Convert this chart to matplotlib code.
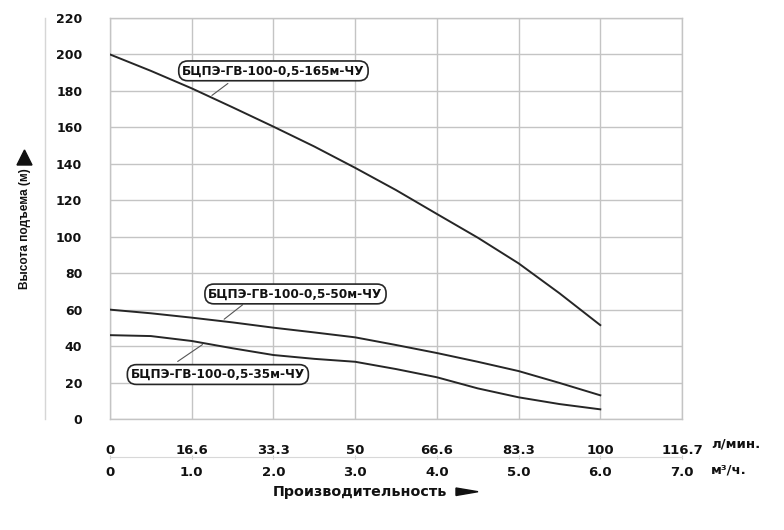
"""Pump head curves for three BCPE-GV-100-0,5 units (head vs. flow)."""
import matplotlib
matplotlib.use("Agg")
import matplotlib.pyplot as plt
from matplotlib.patches import Polygon

# flow, m3/h (read at half steps off the reference)
flow = [0, 0.5, 1.0, 1.5, 2.0, 2.5, 3.0, 3.5, 4.0, 4.5, 5.0, 5.5, 6.0]
head_165 = [200, 191, 181.4, 171, 160.4, 149.5, 137.8, 125.6, 112.5, 99.5, 85.4, 69, 51.5]
head_50 = [60, 58, 55.6, 53, 50.1, 47.5, 44.8, 40.6, 36.2, 31.4, 26.3, 19.8, 13]
head_35 = [46, 45.5, 42.8, 38.8, 35.1, 33.0, 31.4, 27.4, 22.9, 16.8, 11.9, 8.2, 5.3]

x_ticks = [0, 1, 2, 3, 4, 5, 6, 7]
lpm_labels = ["0", "16.6", "33.3", "50", "66.6", "83.3", "100", "116.7"]
m3h_labels = ["0", "1.0", "2.0", "3.0", "4.0", "5.0", "6.0", "7.0"]
y_ticks = list(range(0, 221, 20))

# name, label centre, leader start, leader end (data coords)
labels = [
    ("БЦПЭ-ГВ-100-0,5-165м-ЧУ", (2.0, 191), (1.47, 185), (1.22, 176.6)),
    ("БЦПЭ-ГВ-100-0,5-50м-ЧУ", (2.27, 68.6), (1.65, 63.6), (1.37, 53.8)),
    ("БЦПЭ-ГВ-100-0,5-35м-ЧУ", (1.32, 24.4), (0.80, 30.7), (1.16, 41.7)),
]

GRID = "#c4c4c4"
INK = "#262626"
TXT = "#111111"
W, H = 784, 530
plt.rcParams["font.family"] = ["DejaVu Sans"]
plt.rcParams["font.weight"] = "bold"

fig = plt.figure(figsize=(W / 100, H / 100), dpi=100)
ax = fig.add_axes([110 / W, 1 - 419 / H, 572 / W, 401 / H])


def px(x, y):
    """figure pixel (from top-left) -> figure fraction"""
    return x / W, 1 - y / H


for series in (head_165, head_50, head_35):
    ax.plot(flow, series, color=INK, lw=1.4, zorder=3)

ax.set_xlim(0, 7)
ax.set_ylim(0, 220)
ax.set_xticks(x_ticks, lpm_labels)
ax.set_yticks(y_ticks)
ax.grid(True, color=GRID, lw=1.0)
ax.set_axisbelow(True)
for sp in ax.spines.values():
    sp.set_color(GRID)
    sp.set_linewidth(1.0)
ax.tick_params(axis="y", length=0, pad=20, labelsize=9, colors=TXT)
ax.tick_params(axis="x", length=0, pad=18, labelsize=9.5, colors=TXT)

# second row of flow labels: m3/h
sec = ax.secondary_xaxis(-0.095)
sec.set_xticks(x_ticks, m3h_labels)
sec.spines["bottom"].set_color("#d8d8d8")
sec.tick_params(axis="x", length=3, direction="inout", color="#d0d0d0",
                pad=5, labelsize=9.5, colors=TXT)

ax.text(1.051, -0.0623, "л/мин.", transform=ax.transAxes, fontsize=9.5,
        ha="left", va="center", color=TXT)
ax.text(1.051, -0.127, "м³/ч.", transform=ax.transAxes, fontsize=9.5,
        ha="left", va="center", color=TXT)

fig.text(*px(273, 492), "Производительность", fontsize=10.3,
         ha="left", va="center", color=TXT)
fig.add_artist(Polygon([px(456, 488), px(456, 495.5), px(478, 491.7)],
                       closed=True, color=TXT, transform=fig.transFigure))
fig.text(*px(25, 229), "Высота подъема (м)", fontsize=8.6,
         family=["Liberation Sans", "DejaVu Sans"],
         rotation=90, ha="center", va="center", color=TXT)
fig.add_artist(Polygon([px(17, 165), px(32, 165), px(24.5, 150)],
                       closed=True, color=TXT, transform=fig.transFigure))
# faint vertical rule left of the value axis
fig.add_artist(plt.Line2D([45 / W, 45 / W], [1 - 419 / H, 1 - 18 / H],
                          color="#d6d6d6", lw=1.0))

for name, centre, start, end in labels:
    ax.annotate("", xy=end, xytext=start,
                arrowprops=dict(arrowstyle="-", color="#555", lw=0.8), zorder=4)
    ax.text(*centre, name, fontsize=8.7, ha="center", va="center", color=TXT,
            zorder=5,
            bbox=dict(boxstyle="round,pad=0.28,rounding_size=0.75", fc="white",
                      ec=INK, lw=1.2))

fig.savefig("out.png", dpi=100)
